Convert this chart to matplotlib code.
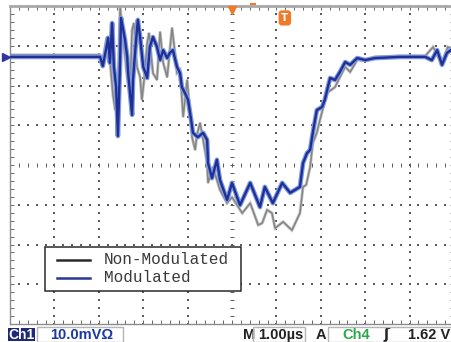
import numpy as np
import matplotlib
matplotlib.use("Agg")
import matplotlib.pyplot as plt
from matplotlib.patches import Rectangle
from matplotlib.lines import Line2D

# ---- data (time in µs relative to trigger, voltage in mV) ----
t_mod = [-5.00, -2.97, -2.91, -2.84, -2.79, -2.75, -2.70, -2.66, -2.61, -2.57,
         -2.52, -2.50, -2.45, -2.41, -2.36, -2.34, -2.25, -2.23, -2.16, -2.12,
         -2.07, -2.00, -1.91, -1.85, -1.78, -1.69, -1.62, -1.55, -1.46, -1.40,
         -1.33, -1.24, -1.17, -1.13, -1.06, -0.99, -0.92, -0.88, -0.77, -0.65,
         -0.56, -0.54, -0.45, -0.34, -0.27, -0.11, 0.00, 0.18, 0.41, 0.63,
         0.74, 0.92, 1.13, 1.31, 1.53, 1.60, 1.69, 1.76, 1.82, 1.91,
         2.03, 2.09, 2.21, 2.32, 2.43, 2.55, 2.66, 2.82, 3.00, 3.22,
         3.78, 4.35, 4.50, 4.62, 4.73, 4.84, 4.93, 5.00]
v_mod = [27.2, 27.2, 24.9, 28.9, 32.0, 25.7, 35.7, 24.7, 19.6, 7.3,
         26.4, 37.0, 34.0, 31.5, 27.2, 23.1, 12.6, 21.4, 31.5, 36.5,
         32.2, 24.7, 21.9, 29.7, 32.2, 29.7, 26.4, 28.9, 26.9, 28.2,
         28.9, 24.7, 23.1, 19.6, 18.1, 16.4, 11.3, 8.1, 7.0, 8.1,
         6.3, 0.5, -3.3, 1.3, -3.8, -8.8, -4.5, -10.1, -4.5, -10.6,
         -5.5, -9.6, -4.5, -7.0, -5.5, 0.5, 3.0, 3.8, 8.1, 13.8,
         14.6, 16.4, 21.9, 21.4, 23.4, 25.9, 25.2, 26.9, 26.4, 26.9,
         27.2, 27.2, 26.4, 28.9, 25.2, 28.2, 28.9, 28.4]

t_non = [-5.00, -2.97, -2.91, -2.82, -2.75, -2.68, -2.63, -2.57, -2.52, -2.45,
         -2.36, -2.30, -2.25, -2.21, -2.14, -2.07, -2.03, -1.98, -1.91, -1.87,
         -1.78, -1.69, -1.62, -1.55, -1.46, -1.40, -1.35, -1.28, -1.24, -1.17,
         -1.10, -1.01, -0.95, -0.90, -0.83, -0.79, -0.72, -0.65, -0.56, -0.54,
         -0.43, -0.27, -0.11, 0.00, 0.23, 0.41, 0.59, 0.68, 0.79, 0.90,
         0.97, 1.15, 1.35, 1.53, 1.60, 1.67, 1.76, 1.82, 1.91, 1.98,
         2.14, 2.32, 2.43, 2.55, 2.66, 2.82, 3.00, 3.22, 3.78, 4.35,
         4.53, 4.62, 4.73, 4.86, 5.00]
v_non = [27.7, 27.7, 26.4, 32.2, 26.4, 17.6, 13.8, 18.9, 39.8, 31.5,
         22.1, 18.1, 34.0, 35.7, 24.7, 22.1, 16.4, 21.4, 30.7, 33.2,
         23.1, 21.4, 33.5, 25.7, 22.1, 28.9, 34.5, 27.7, 23.1, 23.9,
         12.1, 21.4, 13.8, 7.0, 3.8, 7.5, 10.6, 6.3, 0.5, -4.5,
         -0.5, -6.3, -9.6, -8.1, -12.1, -9.6, -15.1, -14.6, -11.3, -12.1,
         -15.9, -14.3, -16.4, -12.1, -5.5, -5.0, -0.5, 5.5, 8.1, 11.3,
         18.1, 19.6, 22.1, 24.7, 23.4, 26.4, 26.4, 27.2, 27.4, 27.4,
         29.7, 27.7, 25.7, 29.7, 28.9]

legend_labels = ["Non-Modulated", "Modulated"]
ch1_level = 27.2          # mV, channel-1 ground marker
ch1_label = "Ch1"
ch1_scale = "10.0mV\u03a9"
time_label = "M"
time_scale = "1.00\u00b5s"
acq_label = "A"
trig_source = "Ch4"
trig_level = "1.62 V"

W, H = 451, 342
fig = plt.figure(figsize=(W / 100, H / 100), dpi=100)
fig.patch.set_facecolor("white")


def fx(px):
    return px / W


def fy(py):
    return 1 - py / H


ax = fig.add_axes([10 / W, 18 / H, 444 / W, 318 / H])
ax.set_xlim(-5, 5)
ax.set_ylim(-40, 40)
ax.set_facecolor("white")

# graticule
gx = np.arange(-5, 5.001, 0.2)
gy = np.arange(-40, 40.001, 2)
dot = "#5a5a5a"
for xv in range(-4, 5):
    if xv == 0:
        continue
    ax.scatter(np.full(len(gy), xv), gy, s=0.9, c=dot, marker="s", linewidths=0, zorder=1)
for yv in range(-30, 40, 10):
    if yv == 0:
        continue
    ax.scatter(gx, np.full(len(gx), yv), s=0.9, c=dot, marker="s", linewidths=0, zorder=1)
ax.plot(gx, np.zeros_like(gx), ls="none", marker="|", ms=3.5, mew=0.7, color=dot, zorder=1)
ax.plot(np.zeros_like(gy), gy, ls="none", marker="_", ms=3.5, mew=0.7, color=dot, zorder=1)

# traces
ax.plot(t_non, v_non, color="#c4c4c4", lw=2.2, zorder=2, solid_joinstyle="miter")
ax.plot(t_non, v_non, color="#858585", lw=1.1, zorder=2)
ax.plot(t_mod, v_mod, color="#7f9be0", lw=3.4, zorder=3)
ax.plot(t_mod, v_mod, color="#1f2f95", lw=1.7, zorder=3)

# frame
for s in ax.spines.values():
    s.set_color("#8c8c8c")
    s.set_linewidth(1.0)
ax.spines["top"].set_linewidth(2.0)
ax.spines["top"].set_color("#a8a8a8")
ax.set_xticks(gx)
ax.set_yticks(gy)
ax.tick_params(direction="in", length=3, width=0.7, color="#666666",
               labelbottom=False, labelleft=False, top=True, right=True)

# markers outside plot
ax.plot([-5.09], [ch1_level], marker=">", ms=6, color="#3434a0", clip_on=False, zorder=6)
ax.plot([0], [39.0], marker="v", ms=6, color="#f07a28", clip_on=False, zorder=6)
ax.plot([0.47], [40.6], marker="_", ms=4, mew=1.5, color="#f07a28", clip_on=False, zorder=6)
ax.text(1.19, 37.0, "T", color="white", fontsize=7.5, fontweight="bold", ha="center", va="center",
        family="DejaVu Sans", zorder=7,
        bbox=dict(boxstyle="round,pad=0.25,rounding_size=0.3", fc="#f07a28", ec="none"))

# legend (custom box)
fig.add_artist(Rectangle((fx(45), fy(291)), (241 - 45) / W, 44 / H, transform=fig.transFigure,
                         fc="white", ec="#2a2a2a", lw=1.1, zorder=5))
fig.add_artist(Line2D([fx(57), fx(90)], [fy(260), fy(260)], transform=fig.transFigure,
                      color="#2a2a2a", lw=1.8, zorder=6))
fig.add_artist(Line2D([fx(57), fx(90)], [fy(278), fy(278)], transform=fig.transFigure,
                      color="#2b3592", lw=1.8, zorder=6))
fig.text(fx(104), fy(260), legend_labels[0], family="Liberation Mono", fontsize=11.5,
         color="#3a3a3a", ha="left", va="center", zorder=7)
fig.text(fx(104), fy(278), legend_labels[1], family="Liberation Mono", fontsize=11.5,
         color="#3a3a3a", ha="left", va="center", zorder=7)

# status bar
ys = fy(335)
fig.add_artist(Rectangle((fx(8), fy(341)), 27 / W, 13 / H, transform=fig.transFigure,
                         fc="#1e2a78", ec="none", zorder=5))
fig.text(fx(21.5), ys, ch1_label, color="white", fontsize=10, fontweight="bold",
         family="Liberation Sans", ha="center", va="center", zorder=6)
for (x0, x1) in [(37, 123), (253, 305), (328, 460)]:
    fig.add_artist(Rectangle((fx(x0), fy(342)), (x1 - x0) / W, 15 / H, transform=fig.transFigure,
                             fc="none", ec="#b5b5b5", lw=1.0, zorder=5))
fig.text(fx(50), ys, ch1_scale, color="#1a3aa0", fontsize=10.5, fontweight="bold",
         family="Liberation Sans", ha="left", va="center")
fig.text(fx(243), ys, time_label, color="#222222", fontsize=10.5, fontweight="bold",
         family="Liberation Sans", ha="left", va="center")
fig.text(fx(258), ys, time_scale, color="#222222", fontsize=10.5, fontweight="bold",
         family="Liberation Sans", ha="left", va="center")
fig.text(fx(316), ys, acq_label, color="#222222", fontsize=10.5, fontweight="bold",
         family="Liberation Sans", ha="left", va="center")
fig.text(fx(342), ys, trig_source, color="#2aa84a", fontsize=10.5, fontweight="bold",
         family="Liberation Sans", ha="left", va="center")
fig.text(fx(383), ys, "\u0283", color="#222222", fontsize=10.5, fontweight="bold",
         family="DejaVu Sans", ha="left", va="center")
fig.text(fx(408), ys, trig_level, color="#222222", fontsize=10.5, fontweight="bold",
         family="Liberation Sans", ha="left", va="center")

fig.savefig("out.png", dpi=100, facecolor="white")
